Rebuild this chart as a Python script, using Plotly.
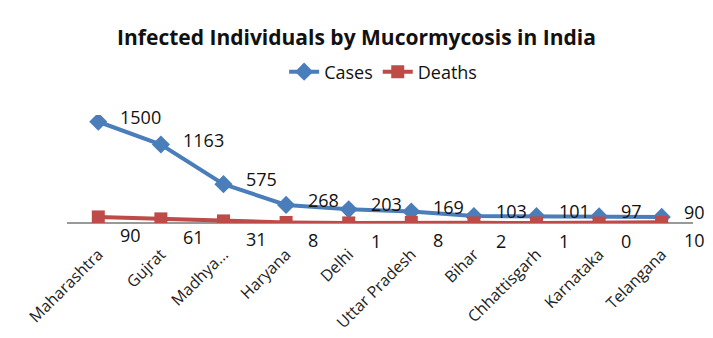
import plotly.graph_objects as go

states = ["Maharashtra", "Gujrat", "Madhya...", "Haryana", "Delhi",
          "Uttar Pradesh", "Bihar", "Chhattisgarh", "Karnataka", "Telangana"]
cases = [1500, 1163, 575, 268, 203, 169, 103, 101, 97, 90]
deaths = [90, 61, 31, 8, 1, 8, 2, 1, 0, 10]

BLUE = "#4A7EBB"
RED = "#BE4B48"
FONT = "Open Sans"

fig = go.Figure()
fig.add_trace(go.Scatter(
    x=states, y=cases, name="Cases", mode="lines+markers",
    line=dict(color=BLUE, width=4),
    marker=dict(symbol="diamond", size=14, color=BLUE),
))
fig.add_trace(go.Scatter(
    x=states, y=deaths, name="Deaths", mode="lines+markers",
    line=dict(color=RED, width=4),
    marker=dict(symbol="square", size=13, color=RED),
))

annotations = []
for s, v in zip(states, cases):
    annotations.append(dict(x=s, y=v, text=str(v), showarrow=False,
                            xanchor="left", yanchor="middle", xshift=20, yshift=5,
                            font=dict(family=FONT, size=18, color="#111")))
for s, v in zip(states, deaths):
    annotations.append(dict(x=s, y=v, text=str(v), showarrow=False,
                            xanchor="left", yanchor="middle", xshift=20, yshift=-18,
                            font=dict(family=FONT, size=18, color="#111")))

fig.update_layout(
    width=713, height=338,
    margin=dict(l=67, r=20, t=115, b=115, autoexpand=False),
    paper_bgcolor="white", plot_bgcolor="white",
    title=dict(text="<b>Infected Individuals by Mucormycosis in India</b>",
               x=0.5, xanchor="center", y=0.888, yanchor="middle",
               font=dict(family=FONT, size=21, color="#111")),
    legend=dict(orientation="h", x=0.505, xanchor="center", y=1.398, yanchor="middle",
                font=dict(family=FONT, size=18, color="#111"),
                itemwidth=30, bgcolor="rgba(0,0,0,0)"),
    showlegend=True,
    annotations=annotations,
    xaxis=dict(showgrid=False, showline=False, zeroline=False, automargin=False,
               tickangle=-45, ticklabelstandoff=18,
               tickfont=dict(family=FONT, size=16, color="#222"),
               range=[-0.5, 9.5]),
    yaxis=dict(range=[0, 1600], showgrid=False, showticklabels=False, automargin=False,
               zeroline=True, zerolinecolor="#999", zerolinewidth=1.5, showline=False),
)

fig.write_html("out.html")
